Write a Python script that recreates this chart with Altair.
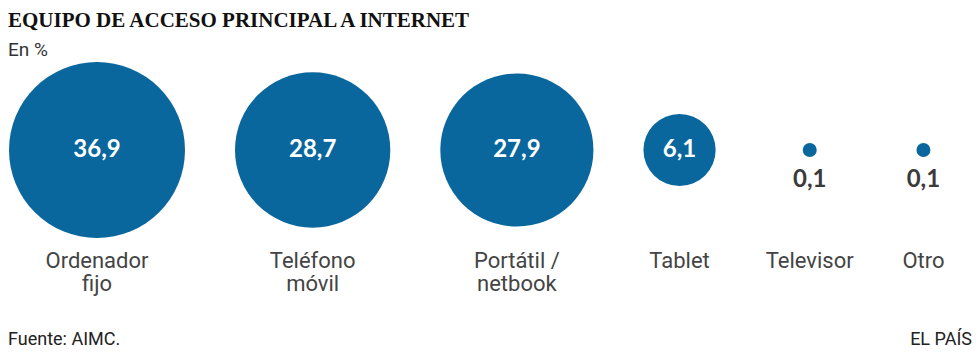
import math
import altair as alt
import pandas as pd

# ---- data ----
line1 = ["Ordenador", "Teléfono", "Portátil /", "Tablet", "Televisor", "Otro"]
line2 = ["fijo", "móvil", "netbook", "", "", ""]
values = [36.9, 28.7, 27.9, 6.1, 0.1, 0.1]
value_labels = ["36,9", "28,7", "27,9", "6,1", "0,1", "0,1"]

title_text = "EQUIPO DE ACCESO PRINCIPAL A INTERNET"
subtitle_text = "En %"
source_text = "Fuente: AIMC."
brand_text = "EL PAÍS"

W, H = 964, 342
BLUE = "#0a679d"
SIZE_DOMAIN = [0.1, 36.9]
SIZE_RANGE = [196, 30976]   # Vega circle: radius = sqrt(size) / 2

# ---- layout: items side by side, each as wide as its circle or its label ----
def radius(v):
    s = SIZE_RANGE[0] + (v - SIZE_DOMAIN[0]) / (SIZE_DOMAIN[1] - SIZE_DOMAIN[0]) * (SIZE_RANGE[1] - SIZE_RANGE[0])
    return math.sqrt(s) / 2

gap = 50
left = 1.0
centers = []
for a, b, v in zip(line1, line2, values):
    w = max(2 * radius(v), 9.8 * max(len(a), len(b)))
    centers.append(left + w / 2)
    left += w + gap

df = pd.DataFrame({
    "cat": [a + ("\n" + b if b else "") for a, b in zip(line1, line2)],
    "value": values,
    "vlabel": value_labels,
    "pos": centers,
    "inside": [radius(v) > 25 for v in values],
})

xenc = alt.X("pos:Q", scale=alt.Scale(domain=[0, W], range=[0, W], nice=False, zero=False), axis=None)
base = alt.Chart(df)

circles = base.mark_circle(color=BLUE, opacity=1).encode(
    x=xenc,
    y=alt.value(142),
    size=alt.Size("value:Q", scale=alt.Scale(domain=SIZE_DOMAIN, range=SIZE_RANGE, zero=False), legend=None),
)

vin = base.transform_filter("datum.inside").mark_text(
    font="Lato", fontWeight="bold", fontSize=24, color="white", baseline="middle", align="center"
).encode(x=xenc, y=alt.value(142), text="vlabel:N")

vout = base.transform_filter("!datum.inside").mark_text(
    font="Lato", fontWeight="bold", fontSize=24, color="#3a3a3a", baseline="middle", align="center"
).encode(x=xenc, y=alt.value(172), text="vlabel:N")

cats = base.mark_text(
    font="Roboto", fontSize=22, color="#444444", baseline="alphabetic", align="center",
    lineBreak="\n", lineHeight=23
).encode(x=xenc, y=alt.value(260), text="cat:N")

title = alt.Chart(pd.DataFrame({"t": [title_text]})).mark_text(
    font="Liberation Serif", fontWeight="bold", fontSize=21, color="#111111", align="left", baseline="alphabetic"
).encode(x=alt.value(0), y=alt.value(19), text="t:N")

sub = alt.Chart(pd.DataFrame({"t": [subtitle_text]})).mark_text(
    font="Roboto", fontSize=19, color="#333333", align="left", baseline="alphabetic"
).encode(x=alt.value(0), y=alt.value(48), text="t:N")

src = alt.Chart(pd.DataFrame({"t": [source_text]})).mark_text(
    font="Roboto", fontSize=18, color="#222222", align="left", baseline="alphabetic"
).encode(x=alt.value(0), y=alt.value(337), text="t:N")

brand = alt.Chart(pd.DataFrame({"t": [brand_text]})).mark_text(
    font="Roboto", fontSize=18, color="#222222", align="right", baseline="alphabetic"
).encode(x=alt.value(W), y=alt.value(337), text="t:N")

chart = alt.layer(circles, vin, vout, cats, title, sub, src, brand).properties(
    width=W, height=H, autosize=alt.AutoSizeParams(type="none"), padding=0
).configure_view(strokeWidth=0, stroke="transparent")

chart.save("out.html", embed_options={"renderer": "svg", "actions": False})
